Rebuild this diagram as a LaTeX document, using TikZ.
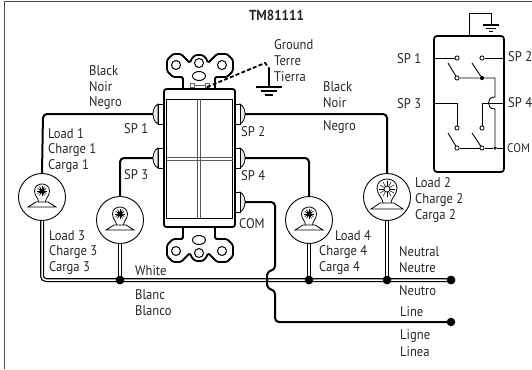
\documentclass[tikz,border=0pt]{standalone}
\usepackage{fontspec}
\setmainfont[FakeStretch=0.9]{PT Sans}
\begin{document}
\begin{tikzpicture}[x=1pt,y=-1pt,
 lbl/.style={anchor=west,inner sep=0pt,text=black!85,font=\fontsize{14}{14}\selectfont},
 lampc/.style={circle,draw=black,line width=0.9pt,minimum size=47pt,inner sep=0pt,fill=white},
 wireb/.style={line width=2pt,black,rounded corners=4pt},
 wirew/.style={draw=black,line width=4pt,rounded corners=4pt,postaction={draw=white,line width=1.5pt}},
 dotj/.style={circle,fill=black,minimum size=8.5pt,inner sep=0pt},
 thin1/.style={line width=0.9pt,black},
 term/.style={circle,draw=black,line width=0.8pt,fill=white,minimum size=4.2pt,inner sep=0pt},
 termf/.style={circle,fill=black,minimum size=4.2pt,inner sep=0pt},
 bulb/.pic={
  \draw[line width=0.8pt,fill=white] (-3.5,5) .. controls (-3.5,1) and (-7.5,-1) .. (-7.5,-6) .. controls (-7.5,-11) and (-3.5,-13) .. (0,-13) .. controls (3.5,-13) and (7.5,-11) .. (7.5,-6) .. controls (7.5,-1) and (3.5,1) .. (3.5,5);
  \draw[line width=0.8pt,fill=white] (-14,10) -- (-6,5) -- (6,5) -- (14,10) -- cycle;
  \foreach \a in {0,30,...,330} \draw[line width=0.7pt] (0,-6) -- ++(\a:5);
  \fill (0,-6) circle (2.5);
 },
 bulbb/.pic={
  \draw[line width=0.8pt,fill=white] (-4,6) .. controls (-4,1) and (-10,-2) .. (-10,-9) .. controls (-10,-15) and (-5,-18) .. (0,-18) .. controls (5,-18) and (10,-15) .. (10,-9) .. controls (10,-2) and (4,1) .. (4,6);
  \draw[line width=0.8pt,fill=white] (-16,12) -- (-7,6) -- (7,6) -- (16,12) -- cycle;
  \foreach \a in {0,30,...,330} \draw[line width=0.5pt] (0,-8) -- ++(\a:8);
  \draw[line width=0.7pt,fill=white] (0,-8) circle (3);
 },
 mount/.pic={
  \draw[line width=1.8pt,fill=white,rounded corners=1.5pt] (183,89) -- (183,77) -- (173,77) -- (167,71) -- (167,60) -- (173,54) -- (181,54) -- (190,63) .. controls (192,57) and (195,55) .. (199,55) .. controls (203,55) and (206,57) .. (208,63) -- (217,54) -- (227,54) -- (233,60) -- (233,71) -- (227,77) -- (215,77) -- (215,89);
  \draw[line width=1pt] (176,65) circle (4.5) (199,63) circle (4.5) (222,65) circle (4.5);
  \draw[line width=1pt] (199,76) ellipse (6.5 and 4.5);
 },
 screw/.pic={
  \draw[line width=0.8pt,fill=black!8] (5,-10) .. controls (1,-8) and (0,-3) .. (0,0) .. controls (0,3) and (1,8) .. (5,10) -- cycle;
  \draw[line width=0.8pt,fill=white] (5,-10) rectangle (10,10);
 }
]
\useasboundingbox (0,0) rectangle (532,369);
\draw[black!70,line width=1pt] (4.5,369) -- (4.5,2) -- (532,2);

% coordinates of terminals
\coordinate (sp1) at (153,114); \coordinate (sp3) at (153,158);
\coordinate (sp2) at (245,114); \coordinate (sp4) at (245,158);
\coordinate (com) at (245,202);
\node[dotj] (n3) at (120,280) {};
\node[dotj] (n4) at (309,280) {};
\node[dotj] (n2) at (387,280) {};
\node[dotj] (nend) at (451,280) {};
\node[dotj] (lend) at (451,322) {};

% lamps
\node[lampc] (l1) at (42,197) {};
\node[lampc] (l3) at (120,220) {};
\node[lampc] (l4) at (309,220) {};
\node[lampc] (l2) at (387,197) {};

% neutral wires
\draw[wirew] (l3.south) -- (n3.center);
\draw[wirew] (l4.south) -- (n4.center);
\draw[wirew] (l2.south) -- (n2.center);
\draw[wirew] (l1.south) -- (42,280) -- (nend.center);
\draw[line width=1.3pt,black] (164,278.2) -- (233,278.2) (164,281.8) -- (233,281.8);
\node[dotj] at (n3) {};\node[dotj] at (n4) {};\node[dotj] at (n2) {};\node[dotj] at (nend) {};

% hot wires
\draw[wireb] (sp1) -- (43,114) -- (l1.north);
\draw[wireb] (sp3) -- (120,158) -- (l3.north);
\draw[wireb] (sp2) -- (387,114) -- (l2.north);
\draw[wireb] (sp4) -- (275,158) -- (309,158) -- (l4.north);
\draw[wireb] (com) -- (275,202) -- (275,270) .. controls (268,271) and (267,275) .. (267,280) .. controls (267,285) and (268,289) .. (275,290) -- (275,322) -- (lend.center);

% lamp icons
\pic at (l1.center) {bulb};
\pic at (l3.center) {bulb};
\pic at (l4.center) {bulb};
\pic at (l2.center) {bulbb};

% switch
\pic at (0,0) {mount};
\pic[yscale=-1] at (0,316) {mount};
\draw[line width=0.5pt,black!60] (190,83) rectangle (194,87) (205,83) rectangle (209,87) (194,85) -- (205,85);
\draw[line width=1.8pt,fill=white,rounded corners=2.5pt] (164,89) rectangle (235,227);
\draw[line width=0.8pt] (166.5,99) rectangle (232.5,218);
\draw[line width=0.8pt,black!65] (197.5,99) -- (197.5,218) (200.5,99) -- (200.5,218);
\draw[line width=0.8pt,black!65] (166.5,157) -- (232.5,157) (166.5,160) -- (232.5,160);
\fill[white] (198,157.5) rectangle (200,159.5);

% screws
\pic at (sp1) {screw};
\pic at (sp3) {screw};
\pic[xscale=-1] at (sp2) {screw};
\pic[xscale=-1] at (sp4) {screw};
\pic[xscale=-1] at (com) {screw};

% ground
\coordinate (gtop) at (265,63);
\coordinate (gd) at (269,86);
\draw[line width=1.8pt,dash pattern=on 4pt off 2.2pt] (207,87) -- (gtop) -- (269,68);
\draw[line width=1.1pt] (269,68) -- (gd);
\draw[line width=1.1pt] (256,87) -- (282,87);
\draw[line width=1.1pt] (261,91) -- (277,91);
\draw[line width=1.1pt] (265,95) -- (273,95);

% schematic
\draw[line width=1.7pt,rounded corners=3pt] (434,36) rectangle (504,172);
\node[term] (a1) at (457,58) {};
\node[term] (a2) at (482,58) {};
\node[term] (b1) at (457,78) {};
\node[termf] (b2) at (482,78) {};
\node[term] (c1) at (457,128) {};
\node[term] (c2) at (482,128) {};
\node[term] (d1) at (457,148) {};
\node[term] (d2) at (482,148) {};
\node[circle,fill=black,minimum size=3.5pt,inner sep=0pt] (e) at (495,148) {};
\coordinate (r1) at (504,58); \coordinate (r3) at (504,103); \coordinate (rc) at (504,148);
\coordinate (l1s) at (434,58); \coordinate (l3s) at (434,103);
\draw[thin1] (l1s) -- (a1);
\draw[thin1] (a2) -- (r1);
\draw[thin1] (448,63) -- (b1);
\draw[thin1] (472,63) -- (b2);
\draw[thin1] (448,133) -- (d1);
\draw[thin1] (472,133) -- (d2);
\draw[thin1] (b1) -- (b2) -- (495,78) -- (495,97) .. controls (490,97) and (488.5,100) .. (488.5,103) .. controls (488.5,106) and (490,109) .. (495,109) -- (e);
\draw[thin1] (l3s) -- (457,103) -- (c1);
\draw[thin1] (r3) -- (482,103) -- (c2);
\draw[thin1] (d1) -- (d2) -- (e) -- (rc);
\draw[thin1] (469,36) -- (469,13) -- (491,13) -- (491,25);
\draw[line width=1.1pt] (483,25) -- (499,25);
\draw[line width=1.1pt] (486,28.5) -- (496,28.5);
\draw[line width=1.1pt] (489,31.5) -- (493,31.5);

% text
\node[inner sep=0pt,font=\fontsize{14.5}{15}\selectfont\bfseries,text=black!85] (title) at (276.5,15) {TM81111};
\foreach \t/\x/\y/\n in {Black/89/71/a,Noir/89/87/b,Negro/89/103/c,
 Load 1/48/134/d,Charge 1/48/150/e,Carga 1/48/166/f,
 SP 1/124/129/g,SP 3/124/175/h,SP 2/241/132/i,SP 4/241/176/j,COM/239/224/k,
 Ground/274/45/m,Terre/274/61/n,Tierra/274/77/o,
 Black/323/87/p,Noir/323/103/q,Negro/323/127/r,
 Load 2/415/183/s,Charge 2/415/200/t,Carga 2/415/216/u,
 Load 3/49/236/v,Charge 3/49/252/w,Carga 3/49/268/x,
 Load 4/335/236/y,Charge 4/319/252/z,Carga 4/319/268/aa,
 White/135/271/ab,Blanc/135/295/ac,Blanco/135/311/ad,
 Neutral/399/252/ae,Neutre/399/268/af,Neutro/399/291/ag,
 Line/400/312/ah,Ligne/400/336/ai,Linea/400/352/aj,
 SP 1/397/59/ak,SP 3/397/104/al,SP 2/508/57/am,SP 4/508/103/an}
  {\node[lbl] (t\n) at (\x,\y) {\t};}
\node[lbl,font=\fontsize{12.5}{14}\selectfont] (tao) at (507,148) {COM};
\end{tikzpicture}
\end{document}
